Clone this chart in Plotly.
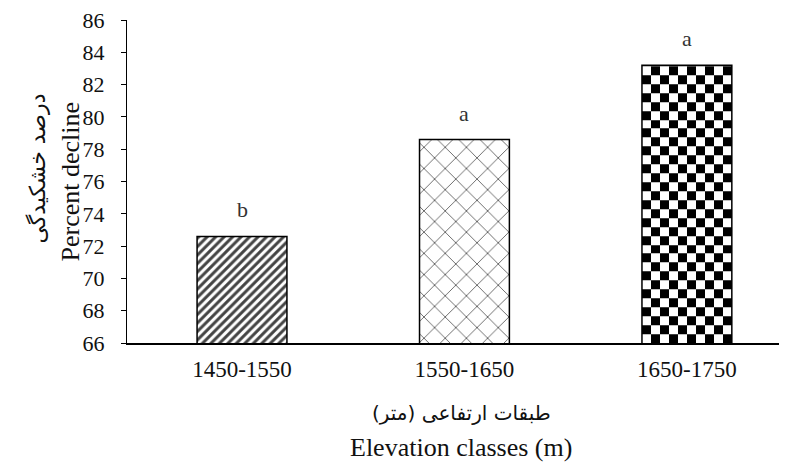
import numpy as np
import plotly.graph_objects as go

# ---- data ----
categories = ["1450-1550", "1550-1650", "1650-1750"]
values = [72.6, 78.6, 83.2]
letters = ["b", "a", "a"]
y_ticks = list(range(66, 87, 2))

y_title_fa = "درصد خشکیدگی"
y_title_en = "Percent decline"
x_title_fa = "\u200fطبقات ارتفاعی (متر)\u200f"
x_title_en = "Elevation classes (m)"

FONT = "Liberation Serif"
FONT_FA = "DejaVu Sans"
BAR_W = 0.404
Y_MIN, Y_MAX = 66, 86

xpos = list(range(len(categories)))

fig = go.Figure()

# checkerboard texture for third bar (heatmap fill, derived from its value)
ncol = 10
cell_y = 0.553
xc = xpos[2]
x_edges = np.linspace(xc - BAR_W / 2, xc + BAR_W / 2, ncol + 1)
y_edges = list(np.arange(Y_MIN, values[2], cell_y))
if y_edges[-1] < values[2]:
    y_edges.append(values[2])
nrow = len(y_edges) - 1
z = [[(i + j) % 2 for j in range(ncol)] for i in range(nrow)]
fig.add_trace(go.Heatmap(
    x=x_edges, y=y_edges, z=z,
    colorscale=[[0, "white"], [1, "black"]],
    showscale=False, zsmooth=False, hoverinfo="skip",
))

fig.add_trace(go.Bar(
    x=xpos, y=values, width=BAR_W,
    marker=dict(
        color=["white", "white", "rgba(0,0,0,0)"],
        line=dict(color="black", width=1.5),
        pattern=dict(
            shape=["/", "x", ""],
            size=[6, 15, 8],
            solidity=[0.5, 0.1, 0.5],
            fgcolor="black",
            fgopacity=1,
            fillmode="overlay",
        ),
    ),
    hoverinfo="skip",
))

annotations = []
for xi, v, t in zip(xpos, values, letters):
    annotations.append(dict(
        x=xi, y=v, xref="x", yref="y", text=t, showarrow=False,
        yanchor="bottom", yshift=12,
        font=dict(family=FONT, size=22, color="#333"),
    ))

annotations += [
    dict(x=0, y=0.5, xref="paper", yref="paper", text=y_title_en, textangle=-90,
         showarrow=False, xanchor="center", yanchor="middle", xshift=-57,
         font=dict(family=FONT, size=26, color="#111")),
    dict(x=0, y=0.54, xref="paper", yref="paper", text=y_title_fa, textangle=-90,
         showarrow=False, xanchor="center", yanchor="middle", xshift=-89,
         font=dict(family=FONT_FA, size=22, color="#111")),
    dict(x=0.5, y=0, xref="paper", yref="paper", text=x_title_fa,
         showarrow=False, xanchor="center", yanchor="middle", yshift=-70, xshift=4,
         font=dict(family=FONT_FA, size=20, color="#111")),
    dict(x=0.5, y=0, xref="paper", yref="paper", text=x_title_en,
         showarrow=False, xanchor="center", yanchor="middle", yshift=-104, xshift=4,
         font=dict(family=FONT, size=26, color="#111")),
]

fig.update_layout(
    width=779, height=462,
    margin=dict(l=119, r=0, t=9, b=127),
    paper_bgcolor="white", plot_bgcolor="white",
    showlegend=False,
    annotations=annotations,
    xaxis=dict(
        range=[-0.517, 2.45], tickvals=xpos, ticktext=categories,
        showgrid=False, zeroline=False, showline=True, linecolor="black", linewidth=1.5,
        ticks="", ticklabelstandoff=5,
        tickfont=dict(family=FONT, size=23, color="#111"),
    ),
    yaxis=dict(
        range=[Y_MIN, Y_MAX], tickvals=y_ticks,
        showgrid=False, zeroline=False, showline=True, linecolor="black", linewidth=1,
        ticks="outside", ticklen=5, tickcolor="black", ticklabelstandoff=12,
        ticklabeloverflow="allow",
        tickfont=dict(family=FONT, size=22, color="#111"),
    ),
)

fig.write_html("out.html")
